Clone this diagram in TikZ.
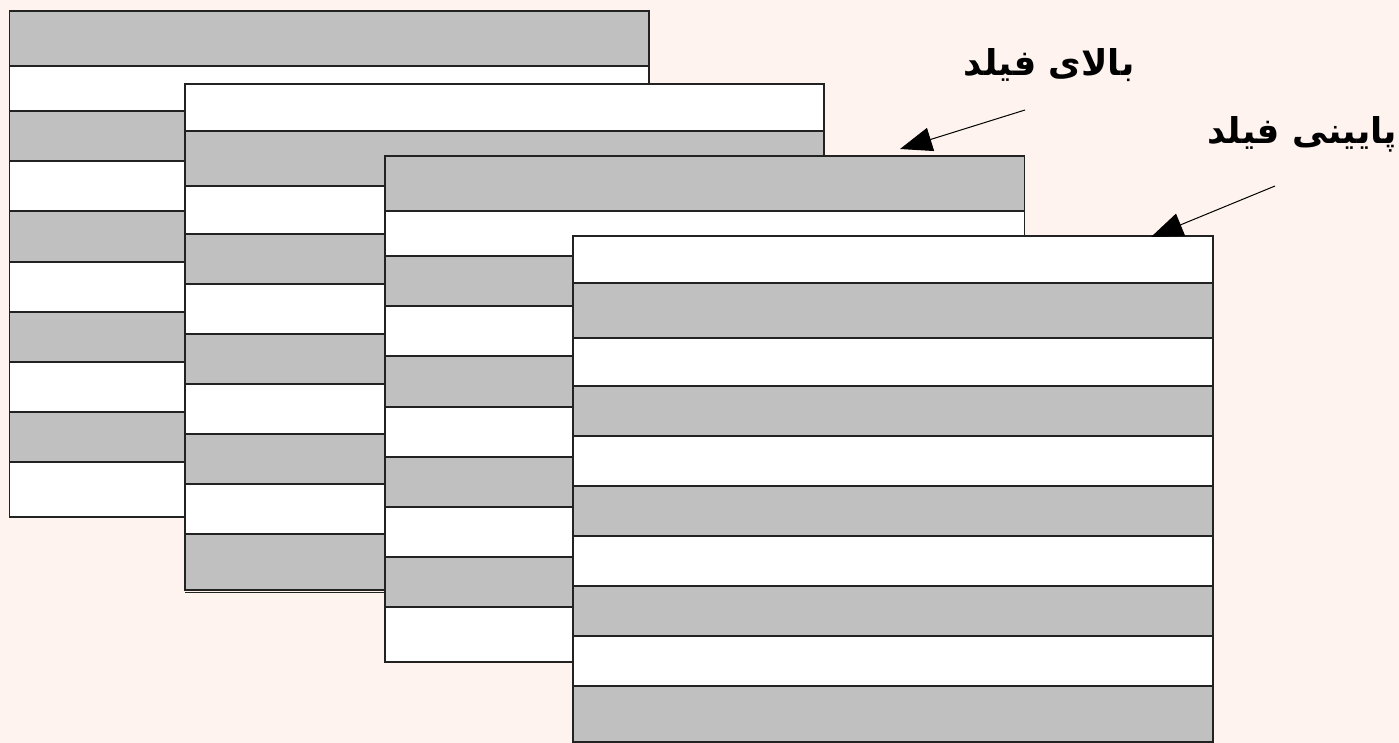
\documentclass[tikz,border=0pt]{standalone}
\usepackage{fontspec}
\usetikzlibrary{arrows.meta}
\TeXXeTstate=1
\newfontfamily\arabicfont[Script=Arabic]{DejaVu Sans}
\definecolor{bgcol}{RGB}{254,243,238}
\definecolor{stripegray}{RGB}{192,192,192}
\definecolor{edgecol}{RGB}{34,34,34}
\newcommand\stripeframe[4]{%
  \foreach \a/\b [count=\i] in {#3} {%
    \pgfmathtruncatemacro\p{mod(\i+#4,2)}%
    \ifnum\p=1 \def\fc{stripegray}\else\def\fc{white}\fi
    \filldraw[stripe, fill=\fc] (#1,\a) rectangle (#2,\b);
  }}
\begin{document}
\begin{tikzpicture}[x=1pt, y=-1pt,
  stripe/.style={draw=edgecol, line width=1.3pt},
  pointer/.style={draw=black, line width=1pt, -{Triangle[length=32pt, width=24pt]}},
  label/.style={font=\arabicfont\bfseries\fontsize{35.5}{40}\selectfont, anchor=base, inner sep=0pt}]
\fill[bgcol] (0,0) rectangle (1399,743);
\useasboundingbox (0,0) rectangle (1399,743);
% frame 1
\stripeframe{9.5}{649}{11/66,66/111,111/161,161/211,211/262,262/312,312/362,362/412,412/462,462/517}{0}
% frame 2
\draw[edgecol, line width=1pt] (185,592) -- (824,592);
\stripeframe{185}{824}{84/131,131/186,186/234,234/284,284/334,334/384,384/434,434/484,484/534,534/590}{1}
\draw[edgecol, line width=1.8pt] (247,84) -- (447,84);
% frame 3
\stripeframe{385}{1024.5}{156/211,211/256,256/306,306/356,356/407,407/457,457/507,507/557,557/607,607/662}{0}
% frame 4
\stripeframe{573}{1213}{236/283,283/338,338/386,386/436,436/486,486/536,536/586,586/636,636/686,686/742}{1}
\draw[edgecol, line width=1.8pt] (636,236) -- (836,236);
% labels and pointers
\node[label] (lab1) at (1049,76) {\beginR بالای فیلد\endR};
\node[label] (lab2) at (1302,144) {\beginR پایینی فیلد\endR};
\coordinate (s1) at (1025,110);
\coordinate (e1) at (900,149);
\coordinate (s2) at (1275,186);
\coordinate (e2) at (1151,237);
\draw[pointer] (s1) -- (e1);
\draw[pointer] (s2) -- (e2);
\end{tikzpicture}
\end{document}
